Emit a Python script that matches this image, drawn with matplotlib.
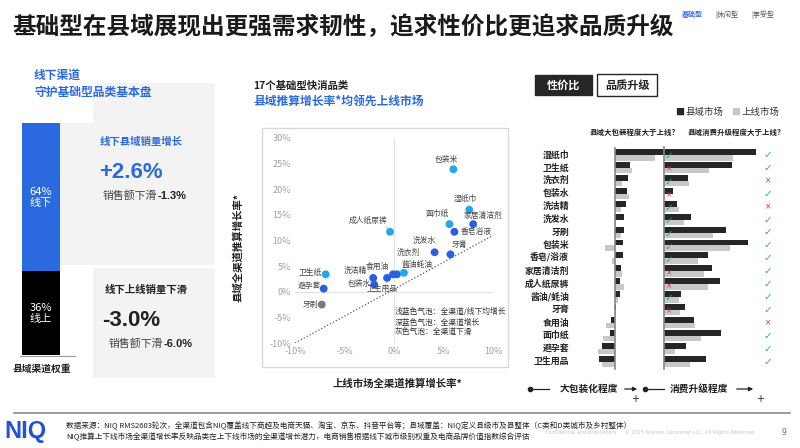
import matplotlib as mpl
mpl.use('Agg')
import matplotlib.pyplot as plt
import matplotlib.transforms as mtransforms
from matplotlib.patches import Rectangle
import numpy as np

plt.rcParams['font.family'] = ['Noto Sans CJK SC', 'DejaVu Sans']

W, H = 800, 448

# ---- data ----
channel_labels = ['64%\n线下', '36%\n线上']
channel_share = [64, 36]

cats = ['湿纸巾', '卫生纸', '洗衣剂', '包装水', '洗洁精', '洗发水', '牙刷', '包装米', '香皂/浴液',
        '家居清洁剂', '成人纸尿裤', '酱油/蚝油', '牙膏', '食用油', '面巾纸', '避孕套', '卫生用品']
pack_county = [147, 45, 40, 35, 34, 28, 28, 25, 23, 19, 16, 15, 4, -12, -15, -38, -48]
pack_top = [120, 52, 20, 42, 18, 2, 18, -30, -8, 20, 28, 8, 2, -28, -35, -50, -40]
upg_county = [276, 204, 72, 26, 38, 82, 186, 252, 132, 144, 167, 51, 63, 89, 170, 66, 127]
upg_top = [207, 136, 75, 3, 46, 60, 146, 199, 102, 119, 133, 45, 48, 92, 111, 32, 78]
pack_mark = ['✓', '×', '✓', '×', '✓', '✓', '✓', '✓', '✓', '×', '×', '✓', '×', '', '', '', '']
upg_mark = ['✓', '✓', '×', '✓', '×', '✓', '✓', '✓', '✓', '✓', '✓', '✓', '✓', '×', '✓', '✓', '✓']

sc_names = ['包装米', '湿纸巾', '面巾纸', '家居清洁剂', '香皂浴液', '成人纸尿裤', '洗发水', '牙膏',
            '洗衣剂', '洗洁精', '食用油', '酱油蚝油', '包装水', '卫生用品', '卫生纸', '避孕套', '牙刷']
sc_x = [6.0, 7.6, 5.6, 8.0, 6.1, -0.4, 4.1, 5.7, 0.3, -2.1, -0.7, 1.0, -2.0, -0.1, -6.9, -7.1, -7.3]
sc_y = [23.9, 16.0, 13.2, 13.2, 11.7, 11.7, 7.7, 7.3, 3.4, 2.7, 2.7, 3.7, 1.4, 3.4, 3.4, 0.6, -2.5]
sc_kind = ['light', 'light', 'light', 'dark', 'dark', 'light', 'dark', 'dark',
           'dark', 'dark', 'dark', 'light', 'dark', 'dark', 'light', 'dark', 'gray']

# label placement (layout only)
lab_pos = {'包装米': (5.3, 25.8), '湿纸巾': (7.2, 18.2), '面巾纸': (4.4, 15.1), '家居清洁剂': (9.0, 14.7),
           '香皂浴液': (8.3, 11.6), '成人纸尿裤': (-2.6, 13.8), '洗发水': (3.1, 9.9), '牙膏': (6.6, 9.2),
           '洗衣剂': (1.45, 7.6), '洗洁精': (-3.9, 4.1), '食用油': (-1.7, 4.9), '酱油蚝油': (2.3, 5.2),
           '包装水': (-3.5, 1.5), '卫生用品': (-1.2, 0.5), '卫生纸': (-8.5, 3.7), '避孕套': (-8.5, 1.1),
           '牙刷': (-8.4, -2.5)}

BLUE = '#2b6ade'
LBLUE = '#21a8e8'
DBLUE = '#2a5fe0'
kind_col = {'light': LBLUE, 'dark': DBLUE, 'gray': '#7a7a7a'}


def fx(x):
    return x / W


def fy(y):
    return 1 - y / H


def ax_px(x0, y0, x1, y1):
    return fig.add_axes([fx(x0), fy(y1), (x1 - x0) / W, (y1 - y0) / H])


def rect_px(x0, y0, x1, y1, **kw):
    fig.patches.append(Rectangle((fx(x0), fy(y1)), (x1 - x0) / W, (y1 - y0) / H,
                                 transform=fig.transFigure, **kw))


def txt(x, y, s, **kw):
    kw.setdefault('va', 'center')
    return fig.text(fx(x), fy(y), s, **kw)


fig = plt.figure(figsize=(8, 4.48), dpi=100)
fig.patch.set_facecolor('white')

# ---- header ----
txt(12, 27, '基础型在县域展现出更强需求韧性，追求性价比更追求品质升级', fontsize=17,
    fontweight='bold', color='#1a1a1a')
txt(682, 15, '基础型', fontsize=5, fontweight='bold', color=BLUE)
txt(715, 15, '|休闲型', fontsize=5, color='#555555')
txt(751, 15, '|享受型', fontsize=5, color='#555555')

# ---- left panel ----
rect_px(93, 83, 215, 265, facecolor='#f3f3f3', edgecolor='none', zorder=0)
rect_px(60, 123, 93, 265, facecolor='#f3f3f3', edgecolor='none', zorder=0)
rect_px(93, 268, 215, 378, facecolor='#f3f3f3', edgecolor='none', zorder=0)

txt(34, 75, '线下渠道', fontsize=8.5, fontweight='bold', color=BLUE)
txt(34, 92, '守护基础型品类基本盘', fontsize=8.5, fontweight='bold', color=BLUE)

axb = ax_px(22, 123, 60, 355)
bottoms = np.cumsum([0] + channel_share[:-1])
for val, b, col, lab in zip(channel_share, bottoms, [BLUE, 'black'], channel_labels):
    axb.bar(0, val, bottom=b, width=1, color=col)
    axb.text(0, b + val / 2, lab, ha='center', va='center', color='white', fontsize=8,
             linespacing=1.15)
axb.set_xlim(-0.5, 0.5)
axb.set_ylim(100, 0)
axb.axis('off')
fig.add_artist(plt.Line2D([fx(20), fx(75)], [fy(355.5), fy(355.5)], color='#999999', lw=0.8))
txt(42, 369, '县域渠道权重', fontsize=7, fontweight='bold', color='#222222', ha='center')

txt(100, 142, '线下县域销量增长', fontsize=7.5, fontweight='bold', color=BLUE)
txt(99, 172, '+2.6%', fontsize=16, fontweight='bold', color=BLUE, family='Liberation Sans')
txt(103, 196, '销售额下滑', fontsize=7.8, color='#444444')
txt(158, 196, '-1.3%', fontsize=8, fontweight='bold', color='#222222', family='Liberation Sans')
txt(105, 290, '线下上线销量下滑', fontsize=7.5, fontweight='bold', color='#222222')
txt(102, 320, '-3.0%', fontsize=16, fontweight='bold', color='#222222', family='Liberation Sans')
txt(109, 344, '销售额下滑', fontsize=7.8, color='#444444')
txt(164, 344, '-6.0%', fontsize=8, fontweight='bold', color='#222222', family='Liberation Sans')

# ---- scatter panel ----
txt(253, 86, '17个基础型快消品类', fontsize=7.5, fontweight='bold', color='#222222')
txt(253, 101, '县域推算增长率*均领先上线市场', fontsize=8.5, fontweight='bold', color=BLUE)
rect_px(262, 128, 508, 367, facecolor='none', edgecolor='#d8d8d8', lw=1.0)

axs = ax_px(295, 138, 493, 343)
axs.set_xlim(-10, 10)
axs.set_ylim(-10, 30)
for s in axs.spines.values():
    s.set_visible(False)
axs.axhline(0, color='#e2e2e2', lw=0.8, zorder=0)
axs.axvline(0, color='#e2e2e2', lw=0.8, zorder=0)
axs.plot([-10, 10], [-10, 11], ls=':', color='#555555', lw=0.9, zorder=1)
axs.scatter(sc_x, sc_y, s=32, c=[kind_col[k] for k in sc_kind], zorder=3, linewidths=0)
for n, x, y in zip(sc_names, sc_x, sc_y):
    lx, ly = lab_pos[n]
    axs.text(lx, ly, n, fontsize=5.6, color='#444444', ha='center', va='center', zorder=4)
for n, x, y in zip(sc_names, sc_x, sc_y):
    if n in ('成人纸尿裤', '湿纸巾', '香皂浴液', '卫生用品'):
        lx, ly = lab_pos[n]
        if n == '成人纸尿裤':
            axs.plot([lx + 1.8, x], [ly - 1.2, y], color='#bbbbbb', lw=0.5, zorder=2)
        elif n == '湿纸巾':
            axs.plot([lx + 0.2, x], [ly - 1.3, y], color='#bbbbbb', lw=0.5, zorder=2)
        elif n == '香皂浴液':
            axs.plot([lx - 1.9, x], [ly, y], color='#bbbbbb', lw=0.5, zorder=2)
        else:
            axs.plot([lx + 0.3, x], [ly + 0.9, y], color='#bbbbbb', lw=0.5, zorder=2)
axs.set_xticks([-10, -5, 0, 5, 10])
axs.set_xticklabels(['-10%', '-5%', '0%', '5%', '10%'])
axs.set_yticks([-10, -5, 0, 5, 10, 15, 20, 25, 30])
axs.set_yticklabels(['-10%', '-5%', '0%', '5%', '10%', '15%', '20%', '25%', '30%'])
axs.tick_params(length=0, labelsize=6.5, labelcolor='#a0a0a0', pad=3)
axs.text(0.1, -6.0, '浅蓝色气泡：全渠道/线下均增长\n深蓝色气泡：全渠道增长\n灰色气泡：全渠道下滑',
         fontsize=5.6, color='#333333', va='center', ha='left', linespacing=1.35)
txt(238, 247, '县域全渠道推算增长率*', fontsize=7.5, fontweight='bold', color='#222222',
    rotation=90, ha='center')
txt(397, 384, '上线市场全渠道推算增长率*', fontsize=7.5, fontweight='bold', color='#222222',
    ha='center')

# ---- right panel ----
rect_px(535, 75, 592, 95, facecolor='#262626', edgecolor='#262626', lw=1)
txt(563.5, 85, '性价比', fontsize=8, fontweight='bold', color='white', ha='center')
rect_px(597, 74, 657, 96, facecolor='white', edgecolor='#262626', lw=1)
txt(627, 85, '品质升级', fontsize=8, fontweight='bold', color='#222222', ha='center')

txt(675, 112, '■', fontsize=6.5, color='#262626')
txt(686, 112, '县域市场', fontsize=6.8, color='#333333')
txt(731, 112, '■', fontsize=6.5, color='#c8c8c8')
txt(742, 112, '上线市场', fontsize=6.8, color='#333333')
txt(590, 132, '县域大包装程度大于上线？', fontsize=5.4, fontweight='bold', color='#222222')
txt(688, 132, '县域消费升级程度大于上线？', fontsize=5.4, fontweight='bold', color='#222222')

rows = np.arange(len(cats))
axl = ax_px(590, 148.5, 664, 368)
axr = ax_px(664, 148.5, 770, 368)
axl.barh(rows - 0.22, pack_county, height=0.46, color='#262626', zorder=2)
axl.barh(rows + 0.22, pack_top, height=0.42, color='#c8c8c8', zorder=1)
axl.set_xlim(-75, 147)
axr.barh(rows - 0.22, upg_county, height=0.46, color='#262626', zorder=2)
axr.barh(rows + 0.22, upg_top, height=0.42, color='#c8c8c8', zorder=1)
axr.set_xlim(0, 318)
for a in (axl, axr):
    a.set_ylim(len(cats) - 0.5, -0.5)
    a.axis('off')
    a.patch.set_alpha(0)
axl.plot([0, 0], [-0.55, len(cats) - 0.45], color='#888888', lw=1.2, zorder=3, clip_on=False)
axr.plot([0, 0], [-0.6, len(cats) - 0.4], color='#888888', lw=1.2, zorder=3, clip_on=False)

tr = mtransforms.blended_transform_factory(fig.transFigure, axl.transData)
for i, c in enumerate(cats):
    fig.text(fx(569), i, c, transform=tr, ha='right', va='center', fontsize=6.4,
             fontweight='bold', color='#222222')
    m = pack_mark[i]
    if m:
        col = '#2fae72' if m == '✓' else '#c8334f'
        fig.text(fx(669), i + 0.1, m, transform=tr, ha='center', va='center',
                 fontsize=7.5 if m == '✓' else 5.5, color=col, family='DejaVu Sans', zorder=5)
    m = upg_mark[i]
    col = '#2fae72' if m == '✓' else '#c8334f'
    fig.text(fx(768), i, m, transform=tr, ha='center', va='center',
             fontsize=7.5 if m == '✓' else 5.5, color=col, family='DejaVu Sans')

# axis direction hints
for x0, x1, label, lx, a0, a1, px in [(530, 549, '大包装化程度', 589, 622, 640, 635),
                                        (645, 664, '消费升级程度', 699, 734, 756, 760)]:
    fig.add_artist(plt.Line2D([fx(x0), fx(x1)], [fy(389), fy(389)], color='#222222', lw=0.9,
                              marker='o', markersize=3, markevery=[0]))
    txt(lx, 389, label, fontsize=7, fontweight='bold', color='#222222', ha='center')
    fig.add_artist(mpl.patches.FancyArrowPatch((fx(a0), fy(389)), (fx(a1), fy(389)),
                                               transform=fig.transFigure, arrowstyle='-|>',
                                               mutation_scale=6, color='#222222', lw=0.9))
    txt(px, 399, '+', fontsize=7, color='#222222', ha='center', family='DejaVu Sans')

# ---- footer ----
fig.add_artist(plt.Line2D([fx(14), fx(790)], [fy(413), fy(413)], color='#8c8c8c', lw=1.2))
txt(4, 431, 'NIQ', fontsize=17, fontweight='bold', color='#2452d6', family='Liberation Sans')
txt(66, 426, '数据来源：NIQ RMS2603轮次，全渠道包含NIQ覆盖线下商超及电商天猫、淘宝、京东、抖音平台等；'
    '县域覆盖：NIQ定义县级市及县整体（C类和D类城市及乡村整体）', fontsize=5.5, color='#222222')
txt(66, 437, 'NIQ推算上下线市场全渠道增长率反映品类在上下线市场的全渠道增长潜力，'
    '电商销售根据线下城市级别权重及电商品牌价值指数综合评估', fontsize=5.5, color='#222222')
txt(545, 432, 'Confidential and proprietary     © 2025 Nielsen Consumer LLC. All Rights Reserved.',
    fontsize=3.6, color='#c4c4c4', family='DejaVu Sans')
txt(781, 432, '9', fontsize=5.5, color='#666666', family='DejaVu Sans')

fig.savefig('out.png', dpi=100)
